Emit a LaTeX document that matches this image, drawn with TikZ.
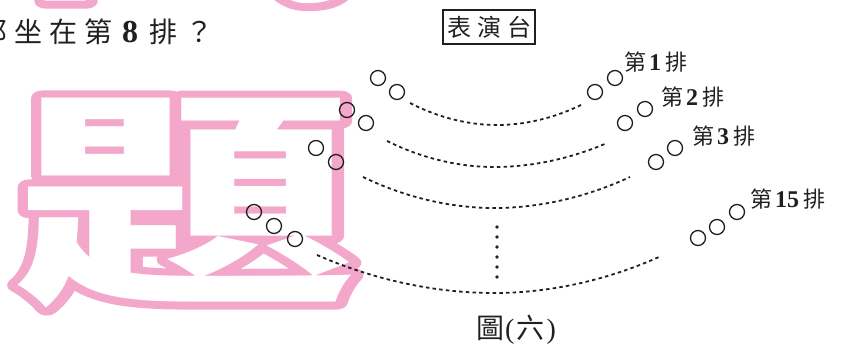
\documentclass[tikz,border=0pt]{standalone}
\usepackage{fontspec}
\usepackage{graphicx}
\setmainfont{Liberation Serif}
\newfontfamily\cjk{Noto Sans CJK TC}
\definecolor{ink}{HTML}{231F20}
\definecolor{wmpink}{RGB}{242,167,203}
\newcommand\dg[1]{{\rmfamily\bfseries\fontsize{24}{24}\selectfont #1}}
\newcommand\halo{\special{pdf:literal direct 2 Tr 15 w 1 j 1 J}}
\newcommand\nohalo{\special{pdf:literal direct 0 Tr 1 w}}
\tikzset{
  seat/.style={draw=ink, circle, minimum size=15pt, inner sep=0pt, line width=1.3pt},
  rowarc/.style={draw=ink, line width=1.8pt, dash pattern=on 3.5pt off 3.2pt},
  rowlabel/.style={anchor=west, inner sep=0pt, text=ink, font=\cjk\fontsize{22}{22}\selectfont},
  wm/.style={inner sep=0pt, font=\cjk\bfseries\fontsize{228}{228}\selectfont},
  vdot/.style={fill=ink, circle, inner sep=0pt, minimum size=3.6pt}
}
\begin{document}
\begin{tikzpicture}[x=1pt,y=-1pt]
\useasboundingbox (0,0) rectangle (844,346);
\clip (0,0) rectangle (844,346);
% watermark
\node[wm, text=wmpink] (wmtopP) at (190,-105) {\halo\scalebox{1.5}[1]{試}\nohalo};
\node[wm, text=white] (wmtopW) at (190,-105) {\scalebox{1.5}[1]{試}};
\node[wm, text=wmpink] (wmP) at (186,203) {\halo\scalebox{1.5}[1]{題}\nohalo};
\node[wm, text=white] (wmW) at (186,203) {\scalebox{1.5}[1]{題}};
% question text
\node[anchor=west, inner sep=0pt, text=ink, font=\cjk\fontsize{28}{28}\selectfont] (q) at (-21,32)
  {那\kern7pt 坐\kern7pt 在\kern7pt 第\kern10pt{\rmfamily\bfseries\fontsize{32}{32}\selectfont 8}\kern11pt 排\kern8pt ？};
% stage
\node[draw=ink, line width=1.8pt, minimum width=92pt, minimum height=34pt, inner sep=0pt,
  text=ink, font=\cjk\fontsize{24}{24}\selectfont] (stage) at (489,27) {表\kern6pt 演\kern6pt 台};
% seats
\node[seat] (a1) at (378,78) {}; \node[seat] (a2) at (397,92) {};
\node[seat] (a3) at (595,92) {}; \node[seat] (a4) at (615,78) {};
\node[seat] (b1) at (347,110) {}; \node[seat] (b2) at (366,123) {};
\node[seat] (b3) at (625,123) {}; \node[seat] (b4) at (645,109) {};
\node[seat] (c1) at (316,148) {}; \node[seat] (c2) at (336,162) {};
\node[seat] (c3) at (656,162) {}; \node[seat] (c4) at (675,148) {};
\node[seat] (d1) at (254,212) {}; \node[seat] (d2) at (274,226) {}; \node[seat] (d3) at (295,239) {};
\node[seat] (d4) at (698,238) {}; \node[seat] (d5) at (717,227) {}; \node[seat] (d6) at (737,212) {};
% arcs
\coordinate (aL) at (410,103); \coordinate (aB) at (497,125); \coordinate (aR) at (583,104);
\coordinate (bL) at (387,141); \coordinate (bB) at (494,167); \coordinate (bR) at (607,143);
\coordinate (cL) at (363,177); \coordinate (cB) at (494,208); \coordinate (cR) at (630,177);
\coordinate (dL) at (317,255); \coordinate (dB) at (494,293); \coordinate (dR) at (659,257);
\draw[rowarc] (aL) parabola bend (aB) (aR);
\draw[rowarc] (bL) parabola bend (bB) (bR);
\draw[rowarc] (cL) parabola bend (cB) (cR);
\draw[rowarc] (dL) parabola bend (dB) (dR);
% vertical dots
\foreach \i in {0,...,5} { \node[vdot] (v\i) at (497,227+10*\i) {}; }
% labels
\node[rowlabel] (l1) at (624,62) {第\kern3pt\dg{1}\kern4pt 排};
\node[rowlabel] (l2) at (661,97) {第\kern3pt\dg{2}\kern4pt 排};
\node[rowlabel] (l3) at (692,136) {第\kern3pt\dg{3}\kern4pt 排};
\node[rowlabel] (l4) at (750,199) {第\kern3pt\dg{15}\kern4pt 排};
% caption
\node[inner sep=0pt, text=ink, font=\cjk\fontsize{28}{28}\selectfont] (cap) at (516,330)
  {圖\kern1pt{\rmfamily(}\kern2pt 六\kern2pt{\rmfamily)}};
\end{tikzpicture}
\end{document}
